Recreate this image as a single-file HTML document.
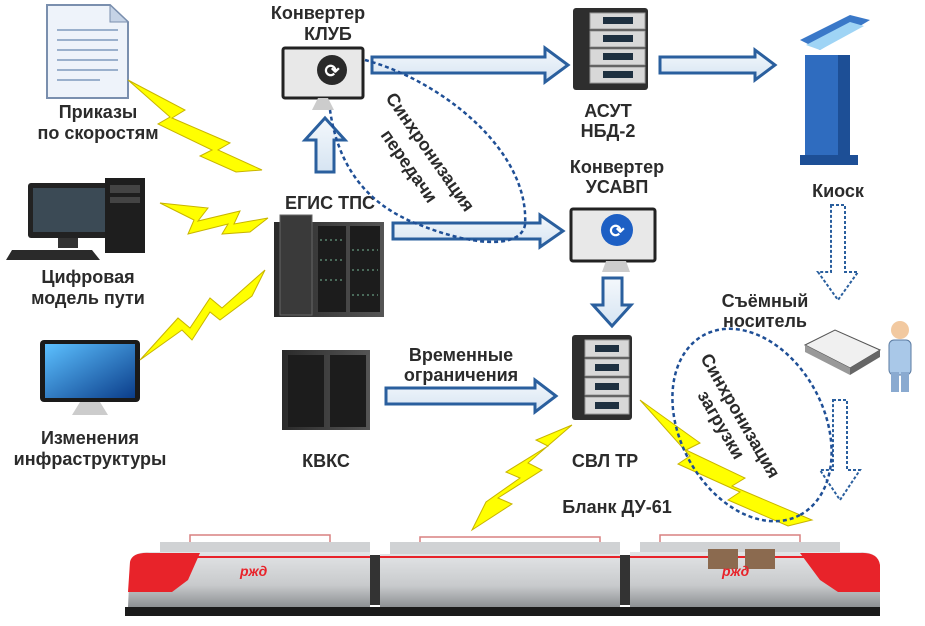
<!DOCTYPE html>
<html><head><meta charset="utf-8"><style>
body{margin:0;background:#fff;width:925px;height:626px;overflow:hidden}
svg{display:block}
text{font-family:"Liberation Sans",sans-serif;font-weight:bold;fill:#2b2b2b;font-size:18px}
</style></head><body>
<svg width="925" height="626" viewBox="0 0 925 626">
<defs>
<linearGradient id="ar" x1="0" y1="0" x2="0" y2="1"><stop offset="0" stop-color="#f4f8fc"/><stop offset="1" stop-color="#d6e4f2"/></linearGradient>
<linearGradient id="srv" x1="0" x2="1"><stop offset="0" stop-color="#2a2a2a"/><stop offset="1" stop-color="#555"/></linearGradient>
<linearGradient id="scr" x1="0" y1="0" x2="1" y2="1"><stop offset="0" stop-color="#5cc0ff"/><stop offset="1" stop-color="#0b3d8a"/></linearGradient>
<linearGradient id="body" x1="0" y1="0" x2="0" y2="1"><stop offset="0" stop-color="#e2e4e6"/><stop offset=".6" stop-color="#c8cacc"/><stop offset="1" stop-color="#8d9093"/></linearGradient>
</defs>

<!-- document -->
<polygon points="47,5 110,5 128,22 128,98 47,98" fill="#eef3fa" stroke="#7a8fae" stroke-width="2"/>
<polygon points="110,5 110,22 128,22" fill="#c5d3e6" stroke="#7a8fae"/>
<g stroke="#9ab0cc" stroke-width="2"><line x1="57" y1="30" x2="118" y2="30"/><line x1="57" y1="40" x2="118" y2="40"/><line x1="57" y1="50" x2="118" y2="50"/><line x1="57" y1="60" x2="118" y2="60"/><line x1="57" y1="70" x2="118" y2="70"/><line x1="57" y1="80" x2="100" y2="80"/></g>
<text x="98" y="118" text-anchor="middle">Приказы</text>
<text x="98" y="139" text-anchor="middle">по скоростям</text>

<!-- desktop -->
<rect x="28" y="183" width="82" height="55" rx="3" fill="#222"/>
<rect x="33" y="188" width="72" height="44" fill="#3b4a55"/>
<rect x="58" y="238" width="20" height="10" fill="#333"/>
<polygon points="12,250 92,250 100,260 6,260" fill="#2a2a2a"/>
<rect x="105" y="178" width="40" height="75" fill="#1e1e1e"/>
<rect x="110" y="185" width="30" height="8" fill="#444"/>
<rect x="110" y="197" width="30" height="6" fill="#444"/>
<text x="88" y="283" text-anchor="middle">Цифровая</text>
<text x="88" y="304" text-anchor="middle">модель пути</text>

<!-- monitor -->
<rect x="40" y="340" width="100" height="62" rx="4" fill="#1a1a1a"/>
<rect x="45" y="344" width="90" height="54" fill="url(#scr)"/>
<polygon points="80,402 100,402 108,415 72,415" fill="#ccc"/>
<text x="90" y="444" text-anchor="middle">Изменения</text>
<text x="90" y="465" text-anchor="middle">инфраструктуры</text>

<!-- bolts -->
<polygon points="128,80 185,110 172,118 230,143 218,150 262,170 236,172 200,156 212,150 158,124 170,117" fill="#ffff00" stroke="#c8b400"/>
<polygon points="160,203 208,208 198,221 240,211 234,224 268,218 250,232 222,234 228,224 188,234 194,220" fill="#ffff00" stroke="#c8b400"/>
<polygon points="140,360 178,318 190,328 210,298 222,308 265,270 252,296 220,320 210,312 192,340 182,330" fill="#ffff00" stroke="#c8b400"/>
<polygon points="572,425 528,463 542,470 498,498 512,504 472,530 486,502 520,478 506,472 548,446 536,440" fill="#ffff00" stroke="#c8b400"/>
<polygon points="640,400 700,443 686,450 745,478 732,486 812,520 788,526 728,500 740,492 678,464 690,456" fill="#ffff00" stroke="#c8b400"/>

<!-- ЕГИС -->
<text x="330" y="209" text-anchor="middle">ЕГИС ТПС</text>
<rect x="274" y="222" width="110" height="95" fill="url(#srv)"/>
<rect x="280" y="215" width="32" height="100" fill="#3a3a3a" stroke="#666"/>
<g fill="#1c1c1c"><rect x="318" y="226" width="28" height="86"/><rect x="350" y="226" width="30" height="86"/></g>
<g stroke="#4a6a5a" stroke-width="2" stroke-dasharray="2 3"><line x1="320" y1="240" x2="345" y2="240"/><line x1="320" y1="260" x2="345" y2="260"/><line x1="320" y1="280" x2="345" y2="280"/><line x1="352" y1="250" x2="378" y2="250"/><line x1="352" y1="270" x2="378" y2="270"/><line x1="352" y1="295" x2="378" y2="295"/></g>

<!-- КЛУБ -->
<text x="318" y="19" text-anchor="middle">Конвертер</text>
<text x="328" y="40" text-anchor="middle">КЛУБ</text>
<rect x="283" y="48" width="80" height="50" rx="2" fill="#e8e8e8" stroke="#222" stroke-width="3"/>
<circle cx="332" cy="70" r="15" fill="#2a2a2a"/><text x="332" y="77" text-anchor="middle" style="fill:#fff;font-size:18px">⟳</text>
<polygon points="318,98 328,98 334,110 312,110" fill="#ccc"/>

<!-- arrows -->
<g fill="url(#ar)" stroke="#2a5f9e" stroke-width="3" stroke-linejoin="miter">
<polygon points="372,57 545,57 545,48 568,65 545,82 545,73 372,73"/>
<polygon points="660,57 755,57 755,50 775,65 755,80 755,73 660,73"/>
<polygon points="316,172 316,140 305,140 325,118 345,140 334,140 334,172"/>
<polygon points="393,223 540,223 540,215 563,231 540,247 540,239 393,239"/>
<polygon points="603,278 622,278 622,305 631,305 612,326 593,305 603,305"/>
<polygon points="386,388 535,388 535,380 556,396 535,412 535,404 386,404"/>
</g>
<g fill="none" stroke="#2a5f9e" stroke-width="2" stroke-dasharray="3 2">
<polygon points="831,205 845,205 845,272 858,272 838,300 818,272 831,272"/>
<polygon points="833,400 847,400 847,470 860,470 840,500 820,470 833,470"/>
</g>

<!-- dotted ellipses -->
<g fill="none" stroke="#1f4f96" stroke-width="2.5" stroke-dasharray="4 3">
<path d="M365,60 C440,80 530,150 525,225 C520,250 470,245 420,225 C380,210 340,180 330,110"/>
<ellipse cx="752" cy="425" rx="102" ry="72" transform="rotate(62 752 425)"/>
</g>
<text transform="translate(385,98) rotate(55)">Синхронизация</text>
<text transform="translate(380,135) rotate(55)">передачи</text>
<text transform="translate(700,358) rotate(60)">Синхронизация</text>
<text transform="translate(697,395) rotate(60)">загрузки</text>

<!-- АСУТ -->
<rect x="573" y="8" width="75" height="82" rx="3" fill="#2e2e2e"/>
<g fill="#d8d8d8" stroke="#999"><rect x="590" y="13" width="55" height="16"/><rect x="590" y="31" width="55" height="16"/><rect x="590" y="49" width="55" height="16"/><rect x="590" y="67" width="55" height="16"/></g>
<g fill="#1e3040"><rect x="603" y="17" width="30" height="7"/><rect x="603" y="35" width="30" height="7"/><rect x="603" y="53" width="30" height="7"/><rect x="603" y="71" width="30" height="7"/></g>
<text x="608" y="117" text-anchor="middle">АСУТ</text>
<text x="608" y="137" text-anchor="middle">НБД-2</text>

<!-- УСАВП -->
<text x="617" y="173" text-anchor="middle">Конвертер</text>
<text x="617" y="193" text-anchor="middle">УСАВП</text>
<rect x="571" y="209" width="84" height="52" rx="2" fill="#e8e8e8" stroke="#222" stroke-width="3"/>
<circle cx="617" cy="230" r="16" fill="#1d5fc4"/><text x="617" y="237" text-anchor="middle" style="fill:#fff;font-size:18px">⟳</text>
<polygon points="606,261 626,261 630,272 602,272" fill="#ccc"/>

<!-- СВЛ -->
<rect x="572" y="335" width="60" height="85" rx="3" fill="#2e2e2e"/>
<g fill="#d8d8d8" stroke="#999"><rect x="585" y="340" width="44" height="17"/><rect x="585" y="359" width="44" height="17"/><rect x="585" y="378" width="44" height="17"/><rect x="585" y="397" width="44" height="17"/></g>
<g fill="#1e3040"><rect x="595" y="345" width="24" height="7"/><rect x="595" y="364" width="24" height="7"/><rect x="595" y="383" width="24" height="7"/><rect x="595" y="402" width="24" height="7"/></g>
<text x="605" y="467" text-anchor="middle">СВЛ ТР</text>
<text x="617" y="513" text-anchor="middle">Бланк ДУ-61</text>

<!-- КВКС -->
<rect x="282" y="350" width="88" height="80" fill="url(#srv)"/>
<rect x="288" y="355" width="36" height="72" fill="#1c1c1c"/><rect x="330" y="355" width="36" height="72" fill="#1c1c1c"/>
<text x="326" y="467" text-anchor="middle">КВКС</text>
<text x="461" y="361" text-anchor="middle">Временные</text>
<text x="461" y="381" text-anchor="middle">ограничения</text>

<!-- kiosk -->
<polygon points="800,40 850,15 870,20 820,50" fill="#3a78c8"/>
<polygon points="806,45 850,22 864,26 820,50" fill="#9fd4f5"/>
<rect x="805" y="55" width="45" height="105" fill="#2f6cbf"/>
<rect x="838" y="55" width="12" height="105" fill="#1d4f96"/>
<rect x="800" y="155" width="58" height="10" fill="#1d4f96"/>
<text x="838" y="197" text-anchor="middle">Киоск</text>

<text x="765" y="307" text-anchor="middle">Съёмный</text>
<text x="765" y="327" text-anchor="middle">носитель</text>
<polygon points="805,345 835,330 880,350 850,368" fill="#f0f0f0" stroke="#555"/>
<polygon points="805,345 850,368 850,375 805,352" fill="#999"/>
<polygon points="850,368 880,350 880,357 850,375" fill="#666"/>
<circle cx="900" cy="330" r="9" fill="#f2c9a0"/>
<rect x="889" y="340" width="22" height="35" rx="5" fill="#a9c8e8" stroke="#5a7aa0"/>
<rect x="891" y="372" width="8" height="20" fill="#8aaad0"/><rect x="901" y="372" width="8" height="20" fill="#8aaad0"/>

<!-- train -->
<g>
<rect x="160" y="542" width="210" height="12" fill="#d0d2d4"/>
<rect x="390" y="542" width="230" height="12" fill="#d0d2d4"/>
<rect x="640" y="542" width="200" height="12" fill="#d0d2d4"/>
<g stroke="#d98080" stroke-width="1.5" fill="none"><path d="M190,542 L190,535 L330,535 L330,542"/><path d="M420,542 L420,537 L600,537 L600,542"/><path d="M660,542 L660,535 L800,535 L800,542"/></g>
<path d="M130,562 Q132,552 150,552 L288,552 L288,607 L128,607 Z" fill="url(#body)"/>
<rect x="288" y="552" width="82" height="55" fill="url(#body)"/>
<rect x="370" y="555" width="10" height="50" fill="#333"/>
<rect x="380" y="554" width="240" height="53" fill="url(#body)"/>
<rect x="620" y="555" width="10" height="50" fill="#333"/>
<path d="M630,552 L860,552 Q878,552 880,565 L880,607 L630,607 Z" fill="url(#body)"/>
<path d="M130,562 Q132,552 150,553 L200,553 L188,580 L172,592 L128,592 Z" fill="#e8232a"/>
<path d="M800,553 L860,553 Q878,552 880,565 L880,592 L838,592 L820,580 Z" fill="#e8232a"/>
<line x1="150" y1="557" x2="370" y2="557" stroke="#e8232a" stroke-width="2"/>
<line x1="380" y1="557" x2="620" y2="557" stroke="#e8232a" stroke-width="2"/>
<line x1="630" y1="557" x2="860" y2="557" stroke="#e8232a" stroke-width="2"/>
<rect x="708" y="549" width="30" height="20" fill="#8b6a4f"/><rect x="745" y="549" width="30" height="20" fill="#8b6a4f"/>
<text x="240" y="576" style="fill:#e8232a;font-size:14px;font-style:italic">ржд</text>
<text x="722" y="576" style="fill:#e8232a;font-size:14px;font-style:italic">ржд</text>
<rect x="125" y="607" width="755" height="9" fill="#1a1a1a"/>
</g>
</svg>
</body></html>
